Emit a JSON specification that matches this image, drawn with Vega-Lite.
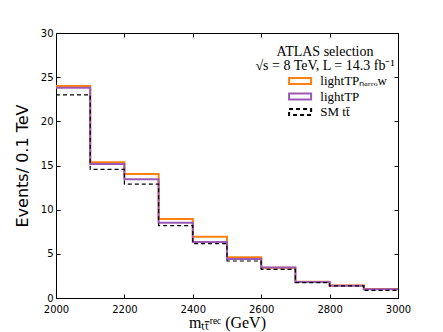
{
  "$schema": "https://vega.github.io/schema/vega-lite/v6.json",
  "autosize": {"type": "none"},
  "width": 342,
  "height": 265,
  "padding": {"left": 56, "top": 33, "right": 45, "bottom": 34},
  "background": "white",
  "config": {
    "view": {"stroke": "black", "strokeWidth": 1},
    "axis": {
      "domainColor": "black",
      "tickColor": "black",
      "labelColor": "black",
      "labelFont": "DejaVu Sans",
      "labelFontSize": 10,
      "labelFlush": false,
      "labelOverlap": false,
      "grid": false,
      "tickSize": -4,
      "titleFontWeight": "normal",
      "titleColor": "black"
    }
  },
  "data": {
    "values": [
      {"series": "narrow", "m": 2000, "n": 24.0},
      {"series": "narrow", "m": 2100, "n": 15.37},
      {"series": "narrow", "m": 2200, "n": 14.04},
      {"series": "narrow", "m": 2300, "n": 8.95},
      {"series": "narrow", "m": 2400, "n": 6.94},
      {"series": "narrow", "m": 2500, "n": 4.6},
      {"series": "narrow", "m": 2600, "n": 3.43},
      {"series": "narrow", "m": 2700, "n": 1.85},
      {"series": "narrow", "m": 2800, "n": 1.42},
      {"series": "narrow", "m": 2900, "n": 1.02},
      {"series": "narrow", "m": 3000, "n": 1.02},
      {"series": "lightTP", "m": 2000, "n": 23.8},
      {"series": "lightTP", "m": 2100, "n": 15.17},
      {"series": "lightTP", "m": 2200, "n": 13.44},
      {"series": "lightTP", "m": 2300, "n": 8.53},
      {"series": "lightTP", "m": 2400, "n": 6.34},
      {"series": "lightTP", "m": 2500, "n": 4.42},
      {"series": "lightTP", "m": 2600, "n": 3.45},
      {"series": "lightTP", "m": 2700, "n": 1.8},
      {"series": "lightTP", "m": 2800, "n": 1.4},
      {"series": "lightTP", "m": 2900, "n": 1.0},
      {"series": "lightTP", "m": 3000, "n": 1.0},
      {"series": "SM", "m": 2000, "n": 23.0},
      {"series": "SM", "m": 2100, "n": 14.57},
      {"series": "SM", "m": 2200, "n": 12.9},
      {"series": "SM", "m": 2300, "n": 8.19},
      {"series": "SM", "m": 2400, "n": 6.15},
      {"series": "SM", "m": 2500, "n": 4.19},
      {"series": "SM", "m": 2600, "n": 3.25},
      {"series": "SM", "m": 2700, "n": 1.75},
      {"series": "SM", "m": 2800, "n": 1.38},
      {"series": "SM", "m": 2900, "n": 0.87},
      {"series": "SM", "m": 3000, "n": 0.87}
    ]
  },
  "resolve": {"axis": {"x": "independent", "y": "independent"}},
  "layer": [
    {
      "transform": [{"filter": "datum.series !== 'SM'"}],
      "mark": {"type": "line", "interpolate": "step-after", "strokeWidth": 2, "clip": true},
      "encoding": {
        "x": {
          "field": "m", "type": "quantitative",
          "scale": {"domain": [2000, 3000], "nice": false},
          "axis": {
            "values": [2000, 2200, 2400, 2600, 2800, 3000],
            "format": "d",
            "labelPadding": 10,
            "title": "mₜₜ̄ʳᵉᶜ (GeV)",
            "titleFont": "Liberation Serif",
            "titleFontSize": 16,
            "titlePadding": 0
          }
        },
        "y": {
          "field": "n", "type": "quantitative",
          "scale": {"domain": [0, 30], "nice": false},
          "axis": {
            "values": [0, 5, 10, 15, 20, 25, 30],
            "labelPadding": 7,
            "title": "Events/ 0.1 TeV",
            "titleFont": "DejaVu Sans",
            "titleFontSize": 16,
            "titlePadding": 10
          }
        },
        "color": {
          "field": "series", "type": "nominal",
          "scale": {"domain": ["narrow", "lightTP", "SM"], "range": ["#ff7f0e", "#9b59b6", "#000000"]},
          "legend": {
            "orient": "none",
            "legendX": 197,
            "legendY": 12,
            "title": ["ATLAS selection", "√s = 8 TeV,  L = 14.3 fb⁻¹"],
            "titleFont": "Liberation Serif",
            "titleFontSize": 14,
            "titleLineHeight": 14,
            "titleFontWeight": "normal",
            "titleColor": "black",
            "titleAlign": "center",
            "titleAnchor": "middle",
            "titlePadding": 2,
            "symbolType": "M-1.5,-0.4H1.5V0.4H-1.5Z",
            "symbolSize": 216,
            "symbolStrokeWidth": 2,
            "symbolFillColor": "transparent",
            "symbolOffset": 27.6,
            "clipHeight": 12,
            "labelFont": "Liberation Serif",
            "labelFontSize": 13,
            "labelColor": "black",
            "labelOffset": 11.7,
            "rowPadding": 2.5,
            "labelExpr": "datum.value === 'narrow' ? 'lightTPₙₐᵣᵣₒw' : datum.value === 'SM' ? 'SM tt̄' : 'lightTP'"
          }
        },
        "strokeDash": {
          "field": "series", "type": "nominal",
          "scale": {"domain": ["narrow", "lightTP", "SM"], "range": [[1, 0], [1, 0], [4, 3]]},
          "legend": null
        }
      }
    },
    {
      "transform": [{"filter": "datum.series === 'SM'"}],
      "mark": {"type": "line", "interpolate": "step-after", "strokeWidth": 1.2, "clip": true},
      "encoding": {
        "x": {
          "field": "m", "type": "quantitative",
          "axis": {"orient": "top", "labels": false, "title": null, "values": [2000, 2200, 2400, 2600, 2800, 3000]}
        },
        "y": {
          "field": "n", "type": "quantitative",
          "axis": {"orient": "right", "labels": false, "title": null, "values": [0, 5, 10, 15, 20, 25, 30]}
        },
        "color": {"field": "series", "type": "nominal"},
        "strokeDash": {"field": "series", "type": "nominal", "legend": null}
      }
    }
  ]
}
